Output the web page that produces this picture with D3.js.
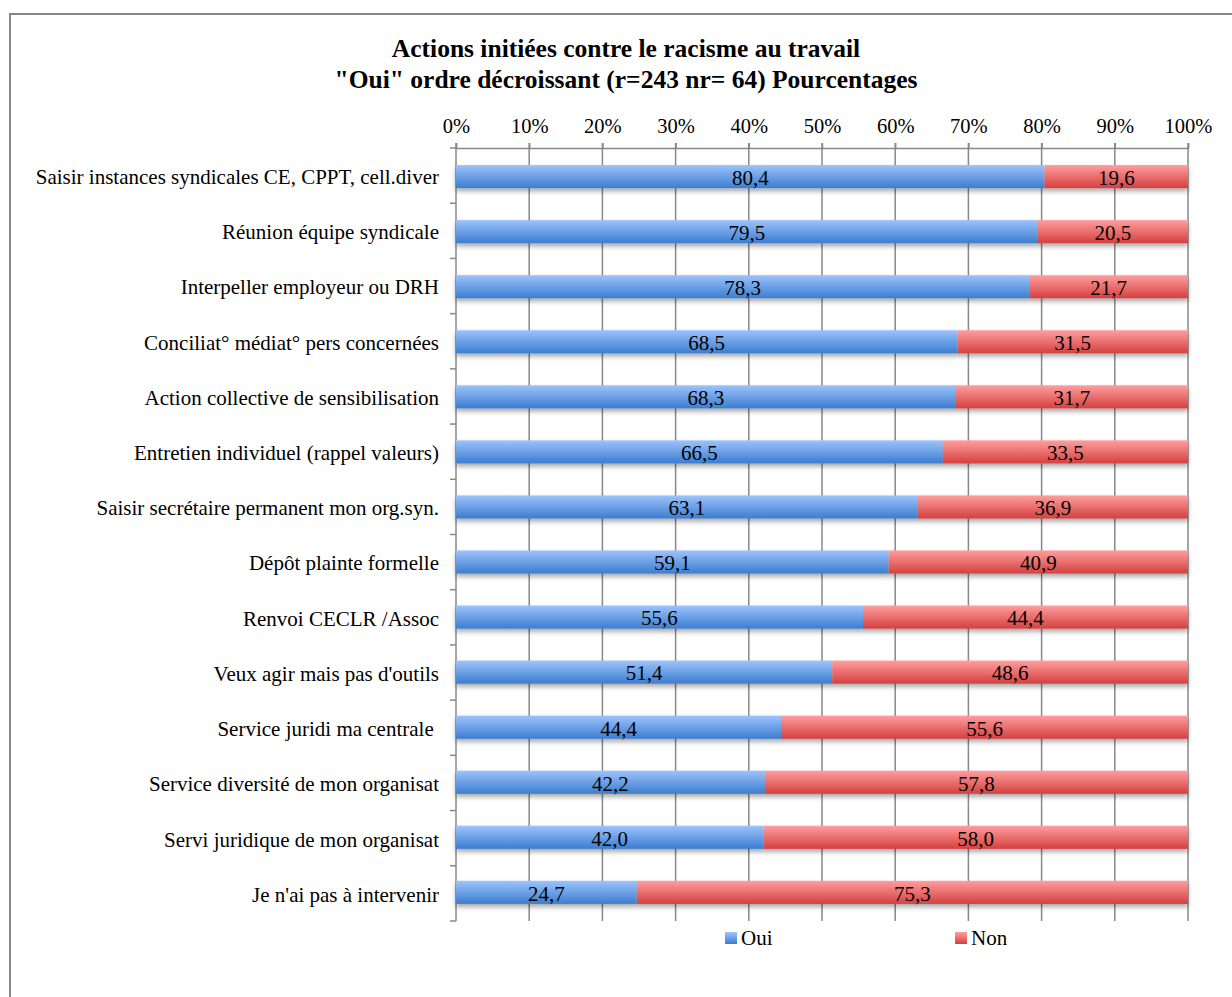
<!DOCTYPE html>
<html>
<head>
<meta charset="utf-8">
<script src="https://cdn.jsdelivr.net/npm/d3@7"></script>
<style>
  body { margin: 0; background: #fff; }
  svg text { font-family: "Liberation Serif", "Times New Roman", serif; fill: #000; }
</style>
</head>
<body>
<svg id="chart"></svg>
<script>
var categories = [
  "Saisir instances syndicales CE, CPPT, cell.diver",
  "Réunion équipe syndicale",
  "Interpeller employeur ou DRH",
  "Conciliat° médiat° pers concernées",
  "Action collective de sensibilisation",
  "Entretien individuel (rappel valeurs)",
  "Saisir secrétaire permanent mon org.syn.",
  "Dépôt plainte formelle",
  "Renvoi CECLR /Assoc",
  "Veux agir mais pas d'outils",
  "Service juridi ma centrale ",
  "Service diversité de mon organisat",
  "Servi juridique de mon organisat",
  "Je n'ai pas à intervenir"
];
var oui = [80.4, 79.5, 78.3, 68.5, 68.3, 66.5, 63.1, 59.1, 55.6, 51.4, 44.4, 42.2, 42.0, 24.7];
var non = [19.6, 20.5, 21.7, 31.5, 31.7, 33.5, 36.9, 40.9, 44.4, 48.6, 55.6, 57.8, 58.0, 75.3];
var seriesNames = ["Oui", "Non"];
var tickValues = [0, 10, 20, 30, 40, 50, 60, 70, 80, 90, 100];

var width = 1232, height = 997;
var margin = {left: 456, right: 44, top: 148, bottom: 76};
var innerW = width - margin.left - margin.right;
var innerH = height - margin.top - margin.bottom;

var svg = d3.select("#chart").attr("width", width).attr("height", height);

// gradients + shadow
var defs = svg.append("defs");
var grads = [
  {id: "gOui", top: "#9dc3fb", bottom: "#3b7dd0"},
  {id: "gNon", top: "#ff9e9e", bottom: "#d4403f"}
];
grads.forEach(function(g){
  var lg = defs.append("linearGradient").attr("id", g.id)
    .attr("x1", 0).attr("y1", 0).attr("x2", 0).attr("y2", 1);
  lg.append("stop").attr("offset", "0%").attr("stop-color", g.top);
  lg.append("stop").attr("offset", "100%").attr("stop-color", g.bottom);
});
var f = defs.append("filter").attr("id", "shadow")
  .attr("x", "-5%").attr("y", "-20%").attr("width", "110%").attr("height", "160%");
f.append("feDropShadow").attr("dx", 0).attr("dy", 3).attr("stdDeviation", 2.5)
  .attr("flood-color", "#000").attr("flood-opacity", 0.35);

// outer frame
svg.append("rect")
  .attr("x", 10).attr("y", 14).attr("width", width + 20).attr("height", height + 20)
  .attr("fill", "none").attr("stroke", "#888").attr("stroke-width", 2);

// title
var title = svg.append("text")
  .attr("text-anchor", "middle")
  .attr("font-weight", "bold").attr("font-size", 25.5);
title.append("tspan").attr("x", 626).attr("y", 57).text("Actions initiées contre le racisme au travail");
title.append("tspan").attr("x", 626).attr("y", 88).text("\"Oui\" ordre décroissant (r=243 nr= 64) Pourcentages");

var chart = svg.append("g").attr("transform", "translate(" + margin.left + "," + margin.top + ")");

var x = d3.scaleLinear().domain([0, 100]).range([0, innerW]);
var y = d3.scaleBand().domain(categories).range([0, innerH]).paddingInner(0.58).paddingOuter(0.31);
var yOuter = d3.scaleBand().domain(categories).range([0, innerH]);

// vertical gridlines
chart.append("g").selectAll("line")
  .data(tickValues).join("line")
  .attr("x1", function(d){ return x(d); }).attr("x2", function(d){ return x(d); })
  .attr("y1", -5).attr("y2", innerH)
  .attr("stroke", "#888").attr("stroke-width", 1.5);

// top axis
var xAxis = d3.axisTop(x).tickValues(tickValues)
  .tickFormat(function(d){ return d + "%"; }).tickSize(5).tickPadding(10);
var gx = chart.append("g").call(xAxis);
gx.select(".domain").attr("stroke", "#888").attr("stroke-width", 1.5);
gx.selectAll(".tick line").attr("stroke", "#888").attr("stroke-width", 1.5);
gx.selectAll(".tick text").attr("font-size", 20.5).attr("font-family", "Liberation Serif");

// left axis ticks at band boundaries
var bounds = categories.map(function(c){ return yOuter(c); }).concat([innerH]);
chart.append("g").selectAll("line")
  .data(bounds).join("line")
  .attr("x1", -6).attr("x2", 0)
  .attr("y1", function(d){ return d; }).attr("y2", function(d){ return d; })
  .attr("stroke", "#888").attr("stroke-width", 1.5);

// category labels
chart.append("g").selectAll("text")
  .data(categories).join("text")
  .attr("x", -17)
  .attr("y", function(d){ return yOuter(d) + yOuter.bandwidth() / 2 + 1; })
  .attr("dy", "0.35em")
  .attr("text-anchor", "end")
  .attr("font-size", 21)
  .style("white-space", "pre")
  .text(function(d){ return d; });

// stacked bars
var rows = categories.map(function(c, i){ return {cat: c, Oui: oui[i], Non: non[i]}; });
var stack = d3.stack().keys(seriesNames)(rows);
var fills = {Oui: "url(#gOui)", Non: "url(#gNon)"};

var layers = chart.append("g").attr("filter", "url(#shadow)")
  .selectAll("g").data(stack).join("g")
  .attr("fill", function(d){ return fills[d.key]; });
layers.selectAll("rect")
  .data(function(d){ return d; }).join("rect")
  .attr("x", function(d){ return x(d[0]); })
  .attr("width", function(d){ return x(d[1]) - x(d[0]); })
  .attr("y", function(d){ return y(d.data.cat); })
  .attr("height", y.bandwidth());

// value labels
var labels = chart.append("g");
stack.forEach(function(layer){
  labels.selectAll(null)
    .data(layer).join("text")
    .attr("x", function(d){ return x((d[0] + d[1]) / 2); })
    .attr("y", function(d){ return y(d.data.cat) + y.bandwidth() / 2 + 1; })
    .attr("dy", "0.35em")
    .attr("text-anchor", "middle")
    .attr("font-size", 21)
    .text(function(d){ return (d[1] - d[0]).toFixed(1).replace(".", ","); });
});

// legend
var legendX = [725, 955];
var legend = svg.append("g").selectAll("g")
  .data(seriesNames).join("g")
  .attr("transform", function(d, i){ return "translate(" + legendX[i] + ",932)"; });
legend.append("rect").attr("width", 12).attr("height", 12)
  .attr("fill", function(d){ return fills[d]; });
legend.append("text").attr("x", 16).attr("y", 6).attr("dy", "0.35em")
  .attr("font-size", 21).text(function(d){ return d; });
</script>
</body>
</html>
